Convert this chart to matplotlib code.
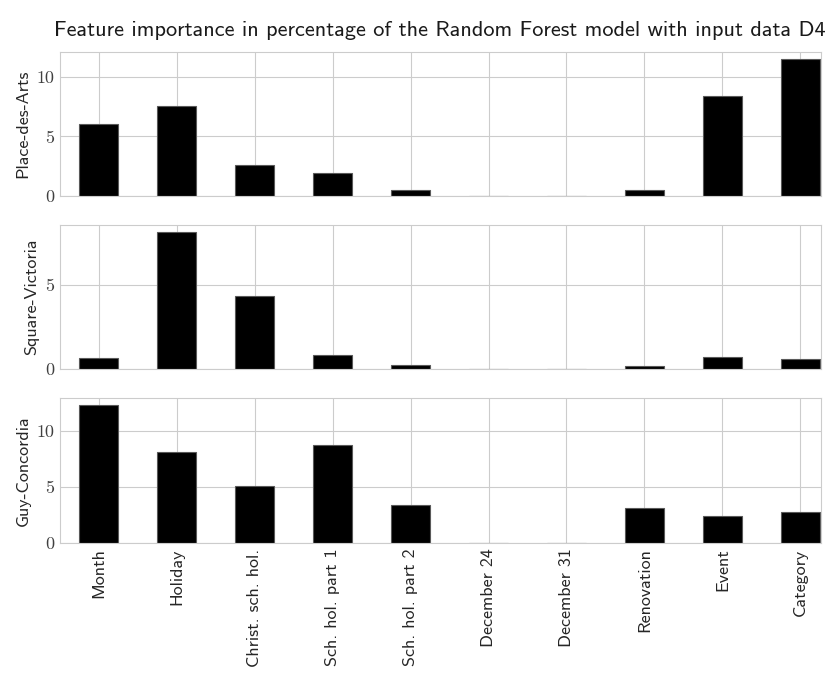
import matplotlib
matplotlib.use('Agg')
import matplotlib.pyplot as plt
import seaborn as sns
import numpy as np

sns.set_style('whitegrid')
plt.rcParams['font.family'] = ['cmss10', 'DejaVu Sans']
plt.rcParams['axes.unicode_minus'] = False

features = ['Month', 'Holiday', 'Christ. sch. hol.', 'Sch. hol. part 1',
            'Sch. hol. part 2', 'December 24', 'December 31', 'Renovation',
            'Event', 'Category']

stations = ['Place-des-Arts', 'Square-Victoria', 'Guy-Concordia']

place_des_arts = [6.08, 7.58, 2.6, 1.9, 0.48, 0.0, 0.0, 0.48, 8.39, 11.58]
square_victoria = [0.65, 8.15, 4.36, 0.85, 0.27, 0.0, 0.0, 0.22, 0.73, 0.63]
guy_concordia = [12.31, 8.15, 5.12, 8.78, 3.39, 0.0, 0.0, 3.14, 2.39, 2.75]

importances = [place_des_arts, square_victoria, guy_concordia]

fig = plt.figure(figsize=(8.31, 6.75), dpi=100)

# three stacked panels sharing the feature axis
boxes = [(0.0718, 0.7101, 0.9158, 0.2133),
         (0.0718, 0.4529, 0.9158, 0.2138),
         (0.0718, 0.1956, 0.9158, 0.2143)]

idx = np.arange(len(features))
axes = []
for i, (box, name, vals) in enumerate(zip(boxes, stations, importances)):
    ax = fig.add_axes(box)
    ax.bar(idx, vals, width=0.5, color='black', edgecolor='0.35', linewidth=0.8)
    ax.set_xlim(-0.5, 9.26)
    ax.set_xticks(idx)
    ax.set_ylabel(name, fontsize=13, color='0.15')
    if vals is square_victoria:
        ax.set_yticks([0, 5])
    else:
        ax.set_yticks([0, 5, 10])
    for lab in ax.get_yticklabels():
        lab.set_fontfamily('cmr10')
        lab.set_fontsize(13)
        lab.set_color('0.25')
    if i < 2:
        ax.set_xticklabels([])
    else:
        ax.set_xticklabels(features, rotation=90, fontsize=13)
    ax.tick_params(axis='both', length=0, pad=4)
    axes.append(ax)

axes[0].set_title('Feature importance in percentage of the Random Forest model with input data D4',
                  fontsize=16, pad=11, color='0.1')

fig.savefig('out.png', dpi=100)
